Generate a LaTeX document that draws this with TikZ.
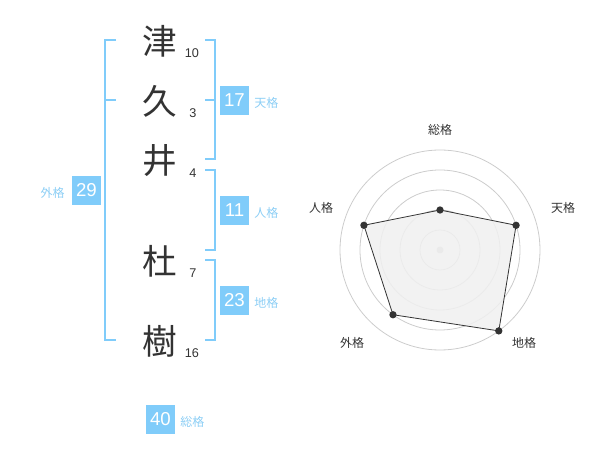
\documentclass[tikz,border=0pt]{standalone}
\usepackage{fontspec}
\setmainfont{Liberation Sans}
\newfontfamily\cjk{Noto Sans CJK JP}
\definecolor{boxblue}{RGB}{128,204,250}
\definecolor{lblblue}{RGB}{140,206,245}
\definecolor{ink}{RGB}{51,51,51}
\definecolor{ring}{RGB}{204,204,204}
\definecolor{polyfill}{RGB}{240,240,240}
\begin{document}
\begin{tikzpicture}[x=0.75pt,y=-0.75pt,
  kanji/.style={font=\cjk\fontsize{26}{28}\selectfont, text=ink, inner sep=0pt},
  strokes/.style={font=\fontsize{9.5}{11}\selectfont, text=ink, inner sep=0pt},
  numbox/.style={fill=boxblue, text=white, minimum width=21.75pt, minimum height=21.75pt, inner sep=0pt, font=\fontsize{14}{16}\selectfont},
  kaku/.style={font=\cjk\fontsize{9}{11}\selectfont, text=lblblue, inner sep=0pt},
  bracket/.style={draw=boxblue, line width=1.5pt},
  axislbl/.style={font=\cjk\fontsize{9}{11}\selectfont, text=ink, inner sep=0pt},
  ringline/.style={draw=ring, line width=0.6pt},
  dot/.style={circle, fill=ink, minimum size=5.5pt, inner sep=0pt}]
\useasboundingbox (0,0) rectangle (600,470);
% kanji
\node[kanji] (k1) at (160,41) {津};
\node[kanji] (k2) at (160,101) {久};
\node[kanji] (k3) at (160,161) {井};
\node[kanji] (k4) at (160,261) {杜};
\node[kanji] (k5) at (160,341) {樹};
% stroke counts
\node[strokes] (s1) at (192,53) {10};
\node[strokes] (s2) at (193,113) {3};
\node[strokes] (s3) at (193,173) {4};
\node[strokes] (s4) at (193,273) {7};
\node[strokes] (s5) at (192,353) {16};
% left bracket (gaikaku)
\coordinate (lt) at (116,40);
\coordinate (lb) at (116,340);
\coordinate (lm) at (116,100);
\draw[bracket] (lt) -- (105,40) -- (105,340) -- (lb);
\draw[bracket] (105,100) -- (lm);
% tenkaku bracket
\coordinate (t1) at (205,40);
\coordinate (t2) at (205,159);
\coordinate (tm) at (205,100);
\draw[bracket] (t1) -- (215,40) -- (215,159) -- (t2);
\draw[bracket] (215,100) -- (tm);
% jinkaku bracket
\coordinate (j1) at (205,170);
\coordinate (j2) at (205,250);
\draw[bracket] (j1) -- (215,170) -- (215,250) -- (j2);
% chikaku bracket
\coordinate (c1) at (205,260);
\coordinate (c2) at (205,340);
\draw[bracket] (c1) -- (215,260) -- (215,340) -- (c2);
% number boxes and labels
\node[numbox] (b17) at (234.5,100.5) {17};
\node[kaku, anchor=west] (l17) at (254,103) {天格};
\node[numbox] (b11) at (234.5,210.5) {11};
\node[kaku, anchor=west] (l11) at (254,213) {人格};
\node[numbox] (b23) at (234.5,300.5) {23};
\node[kaku, anchor=west] (l23) at (254,303) {地格};
\node[numbox] (b29) at (86.5,190.5) {29};
\node[kaku, anchor=east] (l29) at (65,193) {外格};
\node[numbox] (b40) at (160.5,419.5) {40};
\node[kaku, anchor=west] (l40) at (180,422) {総格};
% radar chart
\coordinate (ctr) at (440,250);
\foreach \r in {20,40,60,80,100} \draw[ringline] (ctr) circle[radius=\r];
\fill[ring] (ctr) circle[radius=3.5];
\path (ctr) ++(0,-40) coordinate (pS);
\path (ctr) ++(-18:80) coordinate (pT);
\path (ctr) ++(54:100) coordinate (pC);
\path (ctr) ++(126:80) coordinate (pG);
\path (ctr) ++(198:80) coordinate (pJ);
\filldraw[fill=polyfill, fill opacity=0.85, draw=ink, line width=0.6pt] (pS) -- (pT) -- (pC) -- (pG) -- (pJ) -- cycle;
\foreach \p in {pS,pT,pC,pG,pJ} \node[dot] at (\p) {};
\node[axislbl] (aS) at (440,130) {総格};
\node[axislbl] (aT) at (563,208) {天格};
\node[axislbl] (aC) at (524,343) {地格};
\node[axislbl] (aG) at (352,343) {外格};
\node[axislbl] (aJ) at (321,208) {人格};
\end{tikzpicture}
\end{document}
